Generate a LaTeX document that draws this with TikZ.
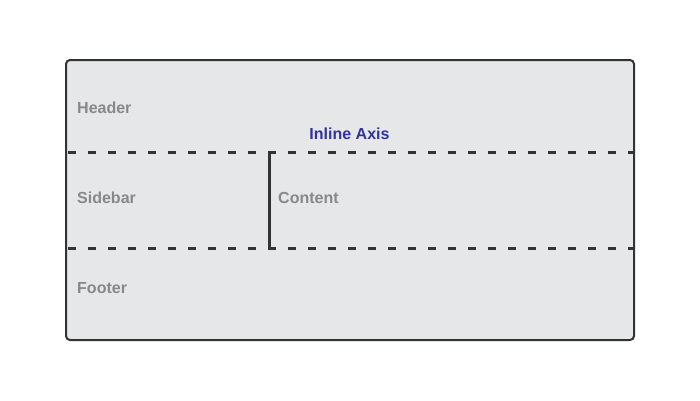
\documentclass[tikz,border=0pt]{standalone}
\usepackage{fontspec}
\setmainfont{Liberation Sans}
\begin{document}
\begin{tikzpicture}[x=1pt,y=-1pt,
  lbl/.style={font=\bfseries\fontsize{16}{18}\selectfont, text=lblgray, inner sep=0pt, anchor=west},
  divider/.style={line width=3pt, draw=linegray, dash pattern=on 8pt off 12pt},
  splitter/.style={line width=3pt, draw=linegray}]
\definecolor{lblgray}{HTML}{888888}
\definecolor{linegray}{HTML}{333333}
\definecolor{boxfill}{HTML}{E6E7E9}
\definecolor{axisblue}{HTML}{333399}
\useasboundingbox (0,0) rectangle (700,400);
\fill[white] (0,0) rectangle (700,400);
\draw[line width=2pt, draw=linegray, fill=boxfill, rounded corners=4pt] (66,60) rectangle (634,340);
\coordinate (h1) at (68,152);
\coordinate (h2) at (634,152);
\coordinate (f1) at (68,248);
\coordinate (f2) at (634,248);
\coordinate (v1) at (269,152);
\coordinate (v2) at (269,248);
\draw[divider] (h1) -- (h2);
\draw[divider] (f1) -- (f2);
\draw[splitter] (v1) -- (v2);
\node[lbl] (header) at (77,108) {Header};
\node[lbl] (sidebar) at (77,198) {Sidebar};
\node[lbl] (content) at (278,198) {Content};
\node[lbl] (footer) at (77,288) {Footer};
\node[lbl, text=axisblue, anchor=center] (axis) at (349.5,134) {Inline Axis};
\end{tikzpicture}
\end{document}
